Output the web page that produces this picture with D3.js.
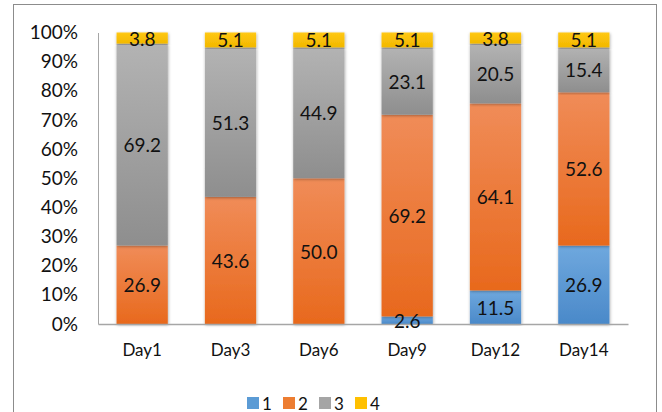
<!DOCTYPE html>
<html>
<head>
<meta charset="utf-8">
<script src="https://cdn.jsdelivr.net/npm/d3@7"></script>
<style>
  html, body { margin: 0; padding: 0; background: #fff; }
  svg { display: block; }
  text { font-family: Lato, "Open Sans", sans-serif; fill: #111; }
</style>
</head>
<body>
<svg id="chart" width="662" height="412"></svg>
<script>
// Share of each score (1–4) per sampling day, in percent
const days = ["Day1", "Day3", "Day6", "Day9", "Day12", "Day14"];
const seriesNames = ["1", "2", "3", "4"];
const score1 = [0, 0, 0, 2.6, 11.5, 26.9];
const score2 = [26.9, 43.6, 50.0, 69.2, 64.1, 52.6];
const score3 = [69.2, 51.3, 44.9, 23.1, 20.5, 15.4];
const score4 = [3.8, 5.1, 5.1, 5.1, 3.8, 5.1];
const yTicks = [0, 0.1, 0.2, 0.3, 0.4, 0.5, 0.6, 0.7, 0.8, 0.9, 1.0];

const colors = {
  "1": ["#6fa8de", "#4a89c9"],
  "2": ["#f08c58", "#e8691d"],
  "3": ["#b3b3b3", "#8e8e8e"],
  "4": ["#ffc814", "#f2b800"]
};
const legendColors = { "1": "#5b9bd5", "2": "#ed7d31", "3": "#a5a5a5", "4": "#ffc000" };

const rows = days.map((d, i) => ({
  day: d, "1": score1[i], "2": score2[i], "3": score3[i], "4": score4[i]
}));

const svg = d3.select("#chart");
const defs = svg.append("defs");

seriesNames.forEach(k => {
  const g = defs.append("linearGradient")
    .attr("id", "grad" + k).attr("x1", 0).attr("y1", 0).attr("x2", 0).attr("y2", 1);
  g.append("stop").attr("offset", "0%").attr("stop-color", colors[k][0]);
  g.append("stop").attr("offset", "100%").attr("stop-color", colors[k][1]);
});

const shadow = defs.append("filter").attr("id", "shadow")
  .attr("x", "-20%").attr("y", "-5%").attr("width", "140%").attr("height", "110%");
shadow.append("feDropShadow")
  .attr("dx", 0.5).attr("dy", 1).attr("stdDeviation", 1.6)
  .attr("flood-color", "#000").attr("flood-opacity", 0.35);

// outer frame
svg.append("rect")
  .attr("x", 13.5).attr("y", 4.5).attr("width", 643).attr("height", 420)
  .attr("fill", "none").attr("stroke", "#8c8c8c").attr("stroke-width", 1);

const plot = { left: 98, right: 628, top: 32.5, bottom: 324 };

const x = d3.scaleBand().domain(days).range([plot.left, plot.right]).paddingInner(0.42).paddingOuter(0.21);
const y = d3.scaleLinear().domain([0, 1]).range([plot.bottom, plot.top]);

const stack = d3.stack().keys(seriesNames).offset(d3.stackOffsetExpand);
const stacked = stack(rows);

// y axis
const yAxis = d3.axisLeft(y).tickValues(yTicks).tickFormat(d3.format(".0%")).tickSize(0).tickPadding(20);
const gy = svg.append("g").attr("transform", `translate(${plot.left},0)`).call(yAxis);
gy.select(".domain").attr("stroke", "#a6a6a6").attr("stroke-width", 1);
gy.selectAll("text").attr("font-size", 19).attr("fill", "#111").attr("font-family", "Lato, sans-serif");

// bars
const layers = svg.append("g").selectAll("g.layer").data(stacked).join("g")
  .attr("class", "layer")
  .attr("fill", d => `url(#grad${d.key})`);

layers.selectAll("rect").data(d => d.filter(s => s[1] - s[0] > 0)).join("rect")
  .attr("x", d => x(d.data.day))
  .attr("width", x.bandwidth())
  .attr("y", d => y(d[1]))
  .attr("height", d => y(d[0]) - y(d[1]))
  .attr("filter", "url(#shadow)");

// x axis
const xAxis = d3.axisBottom(x).tickSize(0).tickPadding(20);
const gx = svg.append("g").attr("transform", `translate(0,${plot.bottom})`).call(xAxis);
gx.select(".domain").attr("stroke", "#a6a6a6").attr("stroke-width", 1.5);
gx.selectAll("text").attr("font-size", 17).attr("fill", "#111").attr("font-family", "Lato, sans-serif");

// value labels
svg.append("g").selectAll("g").data(stacked).join("g")
  .selectAll("text")
  .data(d => d.map((s, i) => ({ s, key: d.key, i })).filter(o => rows[o.i][o.key] > 0))
  .join("text")
  .attr("x", o => x(o.s.data.day) + x.bandwidth() / 2)
  .attr("y", o => (y(o.s[0]) + y(o.s[1])) / 2)
  .attr("text-anchor", "middle")
  .attr("dominant-baseline", "central")
  .attr("font-size", 19)
  .text(o => rows[o.i][o.key].toFixed(1));

// legend
const legend = svg.append("g").attr("transform", "translate(247,397)");
const itemW = 36;
seriesNames.forEach((k, i) => {
  const g = legend.append("g").attr("transform", `translate(${i * itemW},0)`);
  g.append("rect").attr("width", 12).attr("height", 12).attr("fill", legendColors[k]);
  g.append("text").attr("x", 15).attr("y", 6).attr("dominant-baseline", "central")
    .attr("font-size", 17).text(k);
});
</script>
</body>
</html>
